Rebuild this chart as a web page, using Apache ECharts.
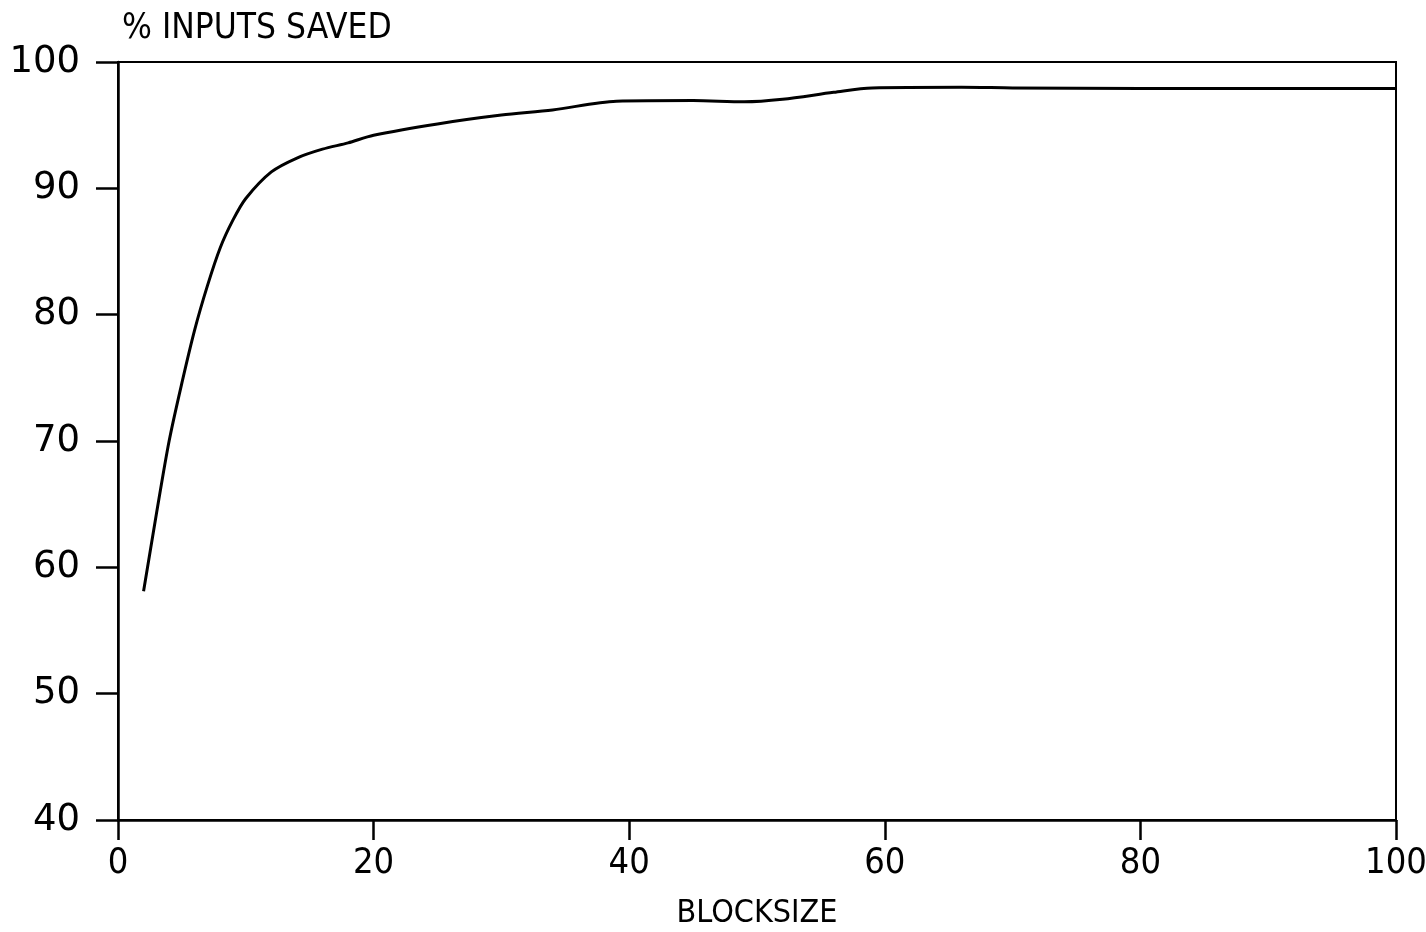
<!DOCTYPE html>
<html>
<head>
<meta charset="utf-8">
<script src="https://cdn.jsdelivr.net/npm/echarts@6/dist/echarts.min.js"></script>
<style>
html,body{margin:0;padding:0;background:#fff;}
#chart{width:1426px;height:932px;}
</style>
</head>
<body>
<div id="chart"></div>
<script>
const blocksize = [2, 3, 4, 5, 6, 7, 8, 9, 10, 12, 14, 16, 18, 20, 25, 30, 34, 39, 45, 49, 52, 56, 59, 66, 70, 80, 90, 100];
const saved = [58.1, 64.2, 70.0, 74.6, 78.8, 82.3, 85.3, 87.5, 89.2, 91.3, 92.4, 93.1, 93.6, 94.2, 95.1, 95.8, 96.2, 96.9, 96.95, 96.85, 97.05, 97.6, 97.95, 98.0, 97.95, 97.9, 97.9, 97.9];
const xTitle = 'BLOCKSIZE';
const yTitle = '% INPUTS SAVED';

const font = '"DejaVu Sans Condensed", "DejaVu Sans", sans-serif';
const chart = echarts.init(document.getElementById('chart'));
chart.setOption({
  backgroundColor: '#fff',
  animation: false,
  grid: { left: 118, right: 30, top: 62, bottom: 112, show: true, borderColor: '#000', borderWidth: 2, backgroundColor: 'transparent', outerBoundsMode: 'none', containLabel: false },
  xAxis: {
    type: 'value', min: 0, max: 100, interval: 20,
    name: xTitle, nameLocation: 'middle', nameGap: 78,
    nameTextStyle: { color: '#000', fontSize: 32, fontFamily: font, verticalAlign: 'top' },
    axisLine: { show: true, lineStyle: { color: '#000', width: 2.5 } },
    axisTick: { show: true, inside: false, length: 20, lineStyle: { color: '#000', width: 2.5 } },
    axisLabel: { color: '#000', fontSize: 36, fontFamily: font, margin: 26 },
    splitLine: { show: false }
  },
  yAxis: {
    type: 'value', min: 40, max: 100, interval: 10,
    name: yTitle, nameLocation: 'end', nameGap: 16,
    nameTextStyle: { color: '#000', fontSize: 35, fontFamily: font, align: 'left', padding: [0, 0, 0, 4] },
    axisLine: { show: true, lineStyle: { color: '#000', width: 2.5 } },
    axisTick: { show: true, inside: false, length: 22, lineStyle: { color: '#000', width: 2.5 } },
    axisLabel: { color: '#000', fontSize: 37, fontFamily: '"DejaVu Sans", sans-serif', margin: 38 },
    splitLine: { show: false }
  },
  series: [{
    type: 'line',
    data: blocksize.map((x, i) => [x, saved[i]]),
    smooth: 0.3,
    showSymbol: false,
    lineStyle: { color: '#000', width: 3 }
  }]
});
</script>
</body>
</html>
